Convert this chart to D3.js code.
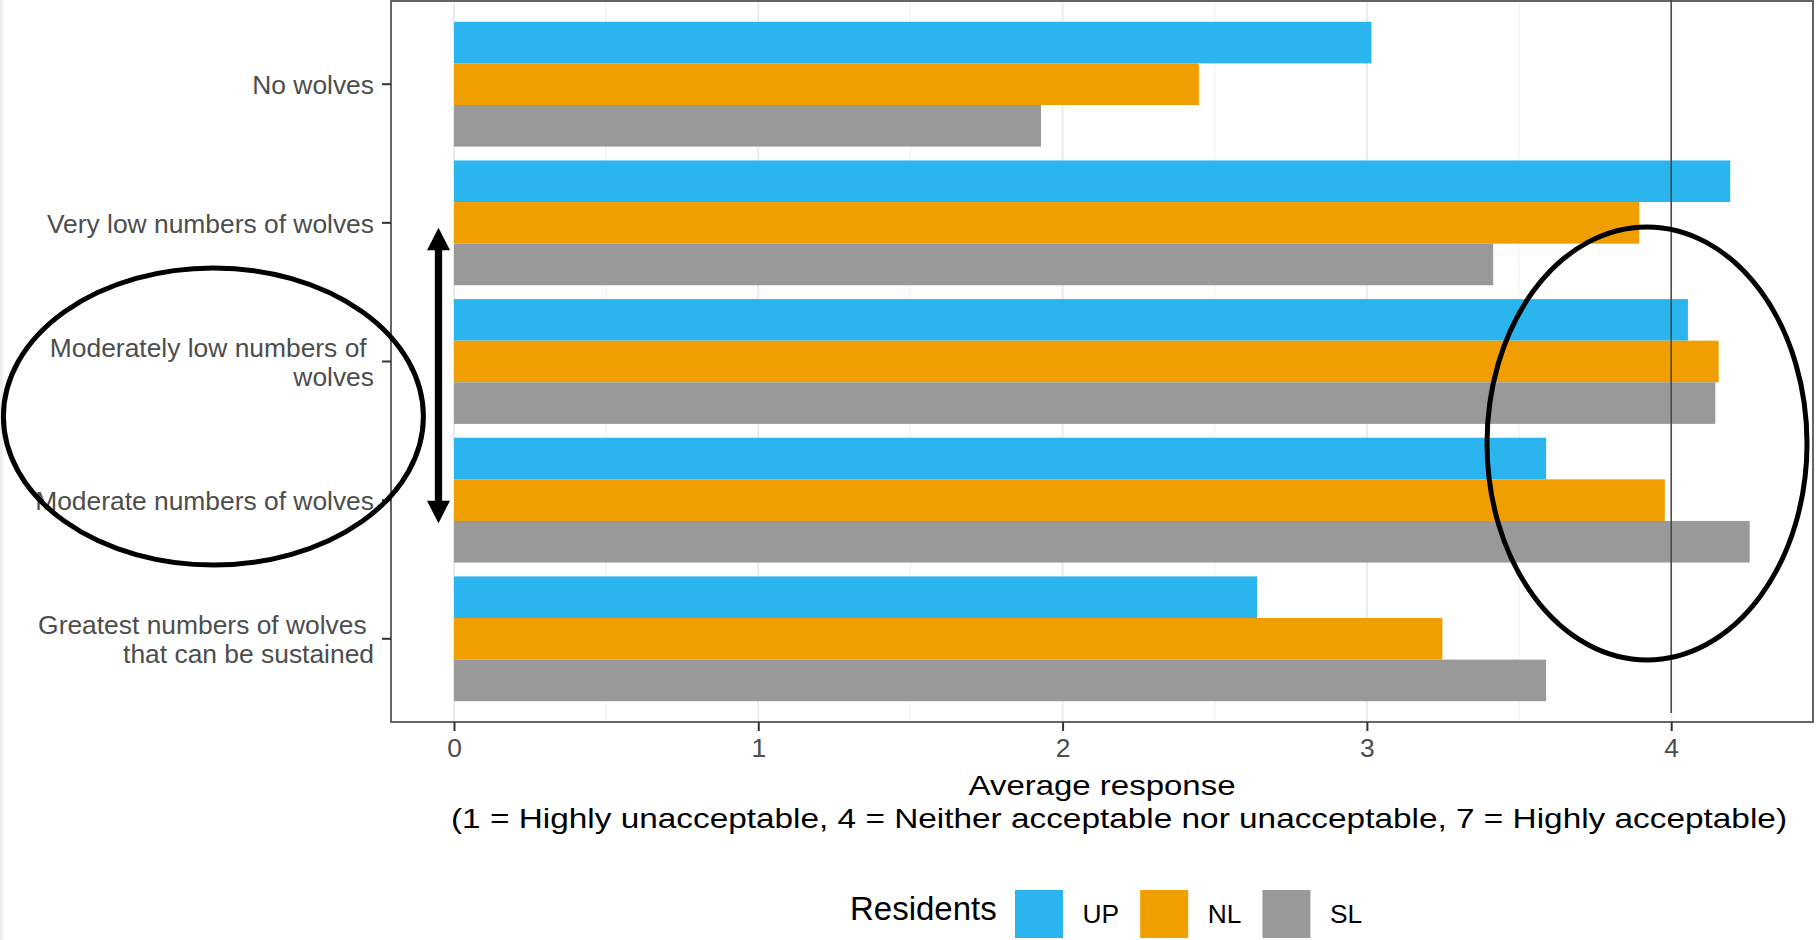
<!DOCTYPE html>
<html>
<head>
<meta charset="utf-8">
<script src="https://cdn.jsdelivr.net/npm/d3@7"></script>
<style>
  html, body { margin: 0; padding: 0; background: #ffffff; }
  svg { display: block; font-family: "Liberation Sans", Arial, Helvetica, sans-serif; }
</style>
</head>
<body>
<svg id="chart" width="1818" height="940"></svg>
<script>
// ---- data ----
const categories = [
  "No wolves",
  "Very low numbers of wolves",
  "Moderately low numbers of \nwolves",
  "Moderate numbers of wolves",
  "Greatest numbers of wolves \nthat can be sustained"
];
const seriesNames = ["UP", "NL", "SL"];
const valuesUP = [3.015, 4.194, 4.055, 3.589, 2.639];
const valuesNL = [2.448, 3.895, 4.156, 3.979, 3.248];
const valuesSL = [1.929, 3.415, 4.145, 4.258, 3.589];
const xTicks = [0, 1, 2, 3, 4];
const xMinorTicks = [0.5, 1.5, 2.5, 3.5];
const referenceValue = 4;
const xTitle1 = "Average response";
const xTitle2 = "(1 = Highly unacceptable, 4 = Neither acceptable nor unacceptable, 7 = Highly acceptable)";
const legendTitle = "Residents";
const seriesColors = ["#2bb5ee", "#f09e00", "#999999"];

// ---- build table ----
const seriesValues = [valuesUP, valuesNL, valuesSL];
const table = [];
categories.forEach((c, i) => {
  seriesNames.forEach((s, j) => table.push({ category: c, series: s, value: seriesValues[j][i] }));
});

const svg = d3.select("#chart");

// screenshot edge strip
svg.append("rect").attr("x", 0).attr("y", 0).attr("width", 3).attr("height", 940).attr("fill", "#efefef");

// ---- panel geometry ----
const panel = { left: 391, right: 1813, top: 1, bottom: 722 };

const x = d3.scaleLinear().domain([-0.207, 4.466]).range([panel.left, panel.right]);
const y = d3.scaleBand().domain(categories).range([panel.top, panel.bottom])
  .paddingInner(0.1).paddingOuter(0.15);
const ySub = d3.scaleBand().domain(seriesNames).range([0, y.bandwidth()]).padding(0);
const color = d3.scaleOrdinal().domain(seriesNames).range(seriesColors);
const yCenter = c => y(c) + y.bandwidth() / 2;

// ---- gridlines ----
const g = svg.append("g");
g.selectAll("line.minor").data(xMinorTicks).join("line")
  .attr("class", "minor")
  .attr("x1", d => x(d)).attr("x2", d => x(d))
  .attr("y1", panel.top).attr("y2", panel.bottom)
  .attr("stroke", "#f1f1f1").attr("stroke-width", 1.2);
g.selectAll("line.major").data(xTicks).join("line")
  .attr("class", "major")
  .attr("x1", d => x(d)).attr("x2", d => x(d))
  .attr("y1", panel.top).attr("y2", panel.bottom)
  .attr("stroke", "#ebebeb").attr("stroke-width", 2);

// ---- bars ----
svg.append("g").selectAll("rect").data(table).join("rect")
  .attr("x", d => x(0))
  .attr("y", d => y(d.category) + ySub(d.series))
  .attr("width", d => x(d.value) - x(0))
  .attr("height", ySub.bandwidth())
  .attr("fill", d => color(d.series));

// ---- panel border ----
svg.append("rect")
  .attr("x", panel.left).attr("y", panel.top)
  .attr("width", panel.right - panel.left).attr("height", panel.bottom - panel.top)
  .attr("fill", "none").attr("stroke", "#555555").attr("stroke-width", 1.8);

// ---- x axis ----
const xAxis = svg.append("g").attr("transform", `translate(0,${panel.bottom})`)
  .call(d3.axisBottom(x).tickValues(xTicks).tickFormat(d3.format("d")).tickSize(9).tickPadding(8));
xAxis.select(".domain").remove();
xAxis.selectAll(".tick line").attr("stroke", "#333333").attr("stroke-width", 2);
xAxis.selectAll(".tick text")
  .attr("fill", "#4d4d4d").attr("font-size", 26.4)
  .attr("font-family", "Liberation Sans, Arial, sans-serif")
  .attr("dy", 0).attr("y", 35);

// ---- y axis ----
const yAxis = svg.append("g").attr("transform", `translate(${panel.left},0)`);
yAxis.selectAll("line").data(categories).join("line")
  .attr("x1", -9).attr("x2", 0)
  .attr("y1", d => yCenter(d)).attr("y2", d => yCenter(d))
  .attr("stroke", "#333333").attr("stroke-width", 2);
const yLabels = yAxis.selectAll("text").data(categories).join("text")
  .attr("xml:space", "preserve")
  .style("white-space", "pre")
  .attr("text-anchor", "end")
  .attr("fill", "#4d4d4d")
  .attr("font-size", 26.4);
yLabels.each(function (d) {
  const lines = d.split("\n");
  const lh = 29;
  const t = d3.select(this);
  lines.forEach((ln, i) => {
    t.append("tspan")
      .attr("x", -17)
      .attr("y", yCenter(d) + (i - (lines.length - 1) / 2) * lh + 10)
      .text(ln);
  });
});

// ---- reference line at 4 ----
svg.append("line")
  .attr("x1", x(referenceValue)).attr("x2", x(referenceValue))
  .attr("y1", 0).attr("y2", panel.bottom - 9)
  .attr("stroke", "#444444").attr("stroke-width", 1.5);

// ---- x axis title ----
const xc = (panel.left + panel.right) / 2;
svg.append("text").attr("x", xc).attr("y", 795)
  .attr("text-anchor", "middle").attr("font-size", 28.5).attr("fill", "#000")
  .attr("textLength", 267).attr("lengthAdjust", "spacingAndGlyphs")
  .text(xTitle1);
svg.append("text").attr("x", xc + 17).attr("y", 827.5)
  .attr("text-anchor", "middle").attr("font-size", 28.5).attr("fill", "#000")
  .attr("textLength", 1336).attr("lengthAdjust", "spacingAndGlyphs")
  .text(xTitle2);

// ---- legend ----
const legend = svg.append("g");
legend.append("text").attr("x", 850).attr("y", 920)
  .attr("font-size", 33).attr("fill", "#000").text(legendTitle);
let lx = 1015;
seriesNames.forEach((s) => {
  legend.append("rect").attr("x", lx).attr("y", 890).attr("width", 48).attr("height", 48)
    .attr("fill", color(s));
  const t = legend.append("text").attr("x", lx + 67.5).attr("y", 923)
    .attr("font-size", 26.4).attr("fill", "#000").text(s);
  const w = t.node().getComputedTextLength();
  lx = lx + 67.5 + w + 21;
});

// ---- hand-drawn annotations ----
const ann = svg.append("g").attr("fill", "none").attr("stroke", "#000").attr("stroke-width", 5);
ann.append("ellipse").attr("cx", 213.4).attr("cy", 416.5).attr("rx", 210).attr("ry", 148.5);
ann.append("ellipse").attr("cx", 1647).attr("cy", 443.4).attr("rx", 160).attr("ry", 216.5);

// double-headed arrow
const ax = 438.5, aTop = 227.7, aBot = 523.3, headL = 22.5, headW = 23;
svg.append("line").attr("x1", ax).attr("x2", ax).attr("y1", aTop + headL - 2).attr("y2", aBot - headL + 2)
  .attr("stroke", "#000").attr("stroke-width", 7.3);
svg.append("path")
  .attr("d", `M${ax},${aTop} L${ax - headW / 2},${aTop + headL} L${ax + headW / 2},${aTop + headL} Z`)
  .attr("fill", "#000");
svg.append("path")
  .attr("d", `M${ax},${aBot} L${ax - headW / 2},${aBot - headL} L${ax + headW / 2},${aBot - headL} Z`)
  .attr("fill", "#000");
</script>
</body>
</html>
